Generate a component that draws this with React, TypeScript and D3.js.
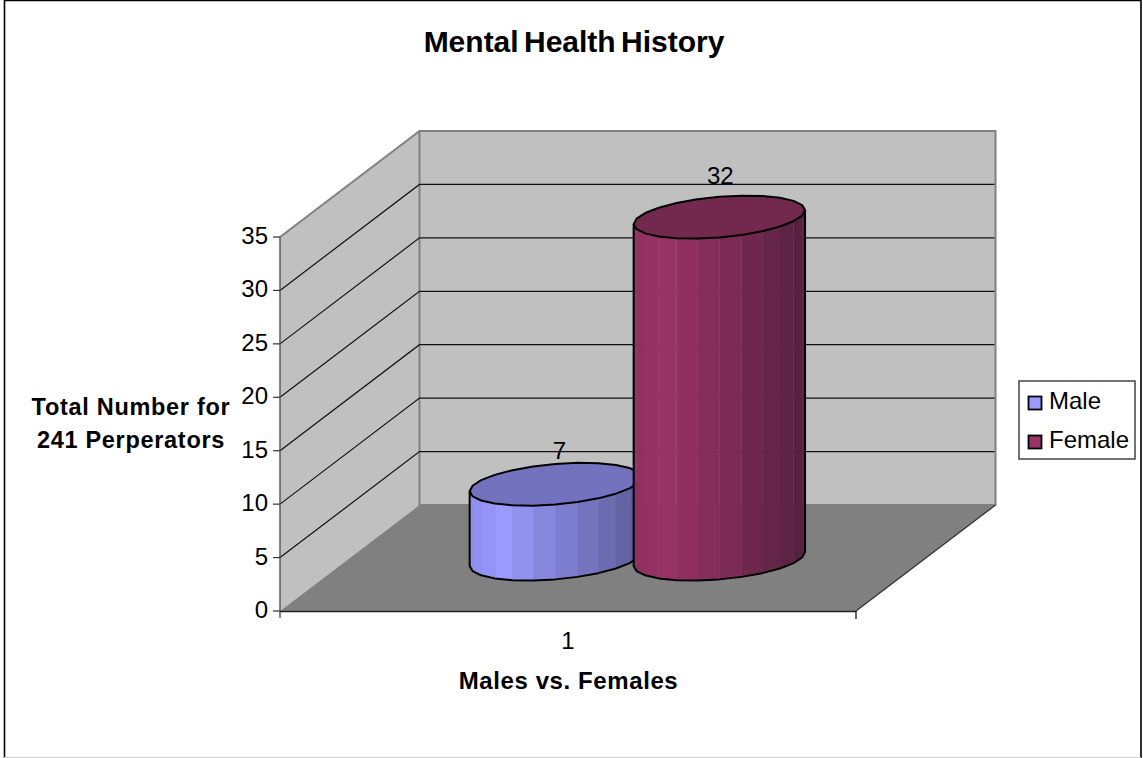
import React from "react";
import * as d3 from "d3";

// Chart content
const chartTitle = "Mental Health History";
const xAxisTitle = "Males vs. Females";
const yAxisTitleLines = ["Total Number for", "241 Perperators"];
const categories = ["1"];
const seriesNames = ["Male", "Female"];
const seriesValues = [7, 32];
const sideColors = [
  ["#8e8eef", "#9999ff", "#5c5c96"],
  ["#8f3060", "#993366", "#54203f"],
];
const capColors = ["#7272bf", "#72294d"];
const yTicks = [0, 5, 10, 15, 20, 25, 30, 35];

// Frame of the box: front plane plus the vector that carries it to the back wall
const W = 1143;
const H = 758;
const frontLeft = 280;
const frontRight = 856;
const depth = { x: 139.5, y: -106 };
const y = d3.scaleLinear().domain([0, 35]).range([611, 237]);
const xCat = d3.scaleBand().domain(categories).range([frontLeft, frontRight]);
const catCentre = xCat("1")! + xCat.bandwidth() / 2;
const xSeries = d3
  .scaleBand()
  .domain(seriesNames)
  .range([catCentre - 163, catCentre + 165]);

// Cylinder footprint: a circle lying on the floor, in oblique projection
const footDepth = 0.49;
const radiusFront = 81;
const radiusDeep = { x: 28, y: -21.5 };
const facetCount = 24;
// Value labels sit a little differently above each cylinder
const labelShift = [
  { dx: 4, dy: -25 },
  { dx: 1, dy: -33 },
];

const FONT = "'Liberation Sans', Arial, sans-serif";
const line = d3.line();
const poly = (pts: [number, number][]) => line(pts)! + "Z";

function ringPoint(cx: number, cy: number, t: number): [number, number] {
  return [
    cx + radiusFront * Math.cos(t) + radiusDeep.x * Math.sin(t),
    cy + radiusDeep.y * Math.sin(t),
  ];
}

function Cylinder({ index }: { index: number }) {
  const name = seriesNames[index];
  const value = seriesValues[index];
  const cx = xSeries(name)! + xSeries.bandwidth() / 2 + depth.x * footDepth;
  const baseY = y(0) + depth.y * footDepth;
  const topY = y(value) + depth.y * footDepth;
  const height = baseY - topY;

  // Facet angles start on the right silhouette, so the left one is a vertex too
  const tRight = Math.atan2(radiusDeep.x, radiusFront);
  const step = (2 * Math.PI) / facetCount;
  const angles = d3.range(facetCount).map((i) => tRight - i * step);
  const frontAngles = angles.slice(0, facetCount / 2 + 1);
  const rim = angles.map((t) => ringPoint(cx, topY, t));
  const footArc = frontAngles.map((t) => ringPoint(cx, baseY, t));

  const [c0, c1, c2] = sideColors[index];
  const shade = d3
    .scaleLinear<string>()
    .domain([0, 0.2, 1])
    .range([c0, c1, c2])
    .interpolate(d3.interpolateRgb);
  const px = d3
    .scaleLinear()
    .domain([cx - 86, cx + 86])
    .range([0, 1])
    .clamp(true);

  const outline: [number, number][] = [
    ringPoint(cx, topY, frontAngles[0]),
    ...footArc,
    ringPoint(cx, topY, frontAngles[frontAngles.length - 1]),
  ];

  return (
    <g>
      {frontAngles.slice(0, -1).map((t, i) => {
        const a = ringPoint(cx, baseY, t);
        const b = ringPoint(cx, baseY, t - step);
        const colour = shade(px((a[0] + b[0]) / 2));
        return (
          <path
            key={i}
            d={poly([a, b, [b[0], b[1] - height], [a[0], a[1] - height]])}
            fill={colour}
            stroke={colour}
            strokeWidth={0.3}
          />
        );
      })}
      <path d={line(outline)!} fill="none" stroke="#000" strokeWidth={2} strokeLinejoin="round" />
      <path d={poly(rim)} fill={capColors[index]} stroke="#000" strokeWidth={2} strokeLinejoin="round" />
      <text
        x={cx + labelShift[index].dx}
        y={topY + labelShift[index].dy}
        textAnchor="middle"
        fontSize={24}
        fontFamily={FONT}
        fill="#000"
      >
        {value}
      </text>
    </g>
  );
}

export default function App() {
  const back = (p: [number, number]): [number, number] => [p[0] + depth.x, p[1] + depth.y];
  const fl: [number, number] = [frontLeft, y(0)];
  const fr: [number, number] = [frontRight, y(0)];
  const tl: [number, number] = [frontLeft, y(35)];
  const wallColor = "#c0c0c0";
  const axisGray = "#808080";

  return (
    <svg
      width={W}
      height={H}
      style={{ position: "absolute", left: 0, top: 0, background: "#fff" }}
    >
      {/* Outer chart frame */}
      <path d="M4.5,758 V0.5 H1141 V758" fill="none" stroke="#000" strokeWidth={1.6} />
      <line x1={4} x2={1141} y1={757.5} y2={757.5} stroke="#cfcfcf" strokeWidth={1} />

      <text x={574} y={52} textAnchor="middle" fontFamily={FONT} fontWeight={700} fontSize={30} wordSpacing={-3}>
        {chartTitle}
      </text>

      {/* Walls and floor */}
      <path d={poly([tl, back(tl), back(fl), fl])} fill={wallColor} />
      <path
        d={poly([back(tl), [frontRight + depth.x, y(35) + depth.y], back(fr), back(fl)])}
        fill={wallColor}
        stroke={axisGray}
        strokeWidth={2}
      />
      <path d={poly([fl, fr, back(fr), back(fl)])} fill="#808080" />
      <path d={line([tl, back(tl)])!} stroke={axisGray} strokeWidth={2} fill="none" />
      <path d={line([fr, back(fr)])!} stroke="#333" strokeWidth={1.3} fill="none" />

      {/* Gridlines run along the side wall and across the back wall */}
      {yTicks
        .filter((t) => t > 0 && t < 35)
        .map((t) => {
          const a: [number, number] = [frontLeft, y(t)];
          const b = back(a);
          return (
            <path
              key={t}
              d={line([a, b, [frontRight + depth.x - 1, b[1]]])!}
              fill="none"
              stroke="#111"
              strokeWidth={1.2}
            />
          );
        })}

      {/* Value axis */}
      <line x1={frontLeft} x2={frontLeft} y1={y(35)} y2={y(0) + 7} stroke="#555" strokeWidth={1.4} />
      <line x1={frontLeft} x2={frontRight} y1={y(0) + 0.5} y2={y(0) + 0.5} stroke="#222" strokeWidth={1.4} />
      <line x1={frontRight} x2={frontRight} y1={y(0)} y2={y(0) + 8} stroke="#000" strokeWidth={1.2} />
      {yTicks.map((t) => (
        <g key={t}>
          <line x1={frontLeft - 7} x2={frontLeft} y1={y(t)} y2={y(t)} stroke="#333" strokeWidth={1.2} />
          <text x={268} y={y(t) + 7} textAnchor="end" fontFamily={FONT} fontSize={24}>
            {t}
          </text>
        </g>
      ))}

      {seriesNames.map((_, i) => (
        <Cylinder key={i} index={i} />
      ))}

      <text x={568} y={649} textAnchor="middle" fontFamily={FONT} fontSize={24}>
        {categories[0]}
      </text>
      <text x={568.5} y={689} textAnchor="middle" fontFamily={FONT} fontWeight={700} fontSize={24} letterSpacing={0.6}>
        {xAxisTitle}
      </text>
      {yAxisTitleLines.map((l, i) => (
        <text key={l} x={131} y={415 + i * 33} textAnchor="middle" fontFamily={FONT} fontWeight={700} fontSize={23.5} letterSpacing={0.7}>
          {l}
        </text>
      ))}

      {/* Legend */}
      <rect x={1019} y={381} width={116} height={78} fill="#fff" stroke="#444" strokeWidth={1.5} />
      {seriesNames.map((n, i) => (
        <g key={n}>
          <rect x={1028.5} y={396.5 + i * 39} width={13} height={13} fill={sideColors[i][1]} stroke="#000" strokeWidth={1.8} />
          <text x={1049} y={409 + i * 39} fontFamily={FONT} fontSize={24}>
            {n}
          </text>
        </g>
      ))}
    </svg>
  );
}
